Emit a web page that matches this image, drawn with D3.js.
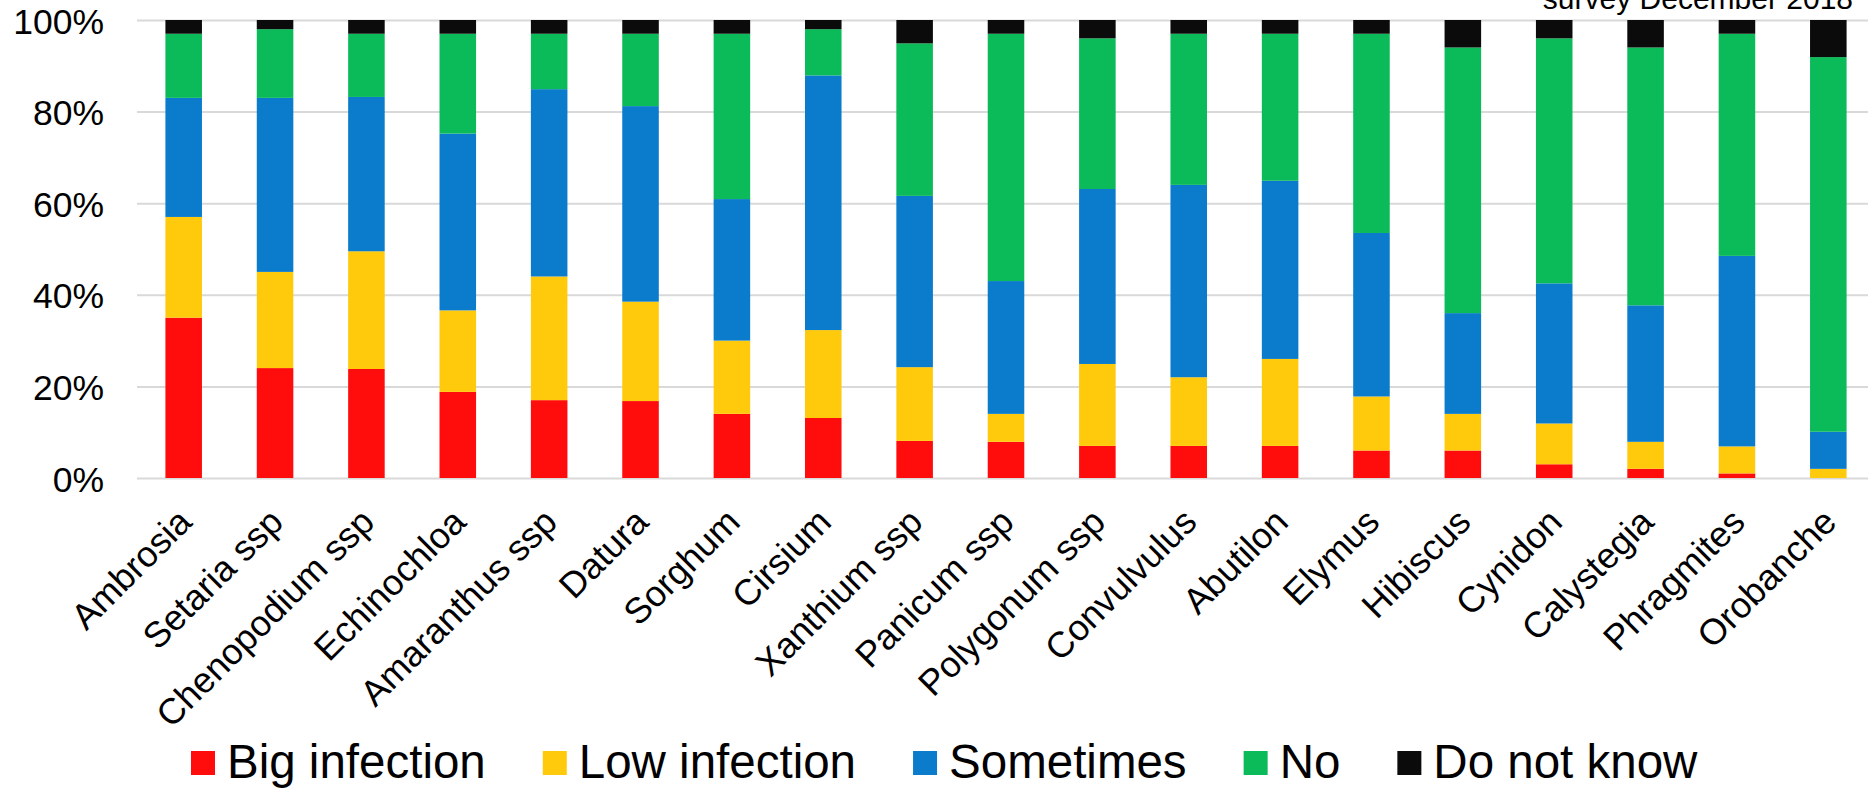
<!DOCTYPE html>
<html>
<head>
<meta charset="utf-8">
<script src="https://cdn.jsdelivr.net/npm/d3@7"></script>
<style>
  html, body { margin: 0; padding: 0; background: #fff; }
  svg { display: block; font-family: "Liberation Sans", Arial, sans-serif; }
</style>
</head>
<body>
<svg id="chart" width="1868" height="789"></svg>
<script>
const categories = ["Ambrosia", "Setaria ssp", "Chenopodium ssp", "Echinochloa", "Amaranthus ssp",
  "Datura", "Sorghum", "Cirsium", "Xanthium ssp", "Panicum ssp", "Polygonum ssp", "Convulvulus",
  "Abutilon", "Elymus", "Hibiscus", "Cynidon", "Calystegia", "Phragmites", "Orobanche"];

const seriesNames = ["Big infection", "Low infection", "Sometimes", "No", "Do not know"];

const bigInfection = [35, 24, 23.8, 18.8, 17, 16.8, 14, 13.1, 8.1, 7.9, 7, 7, 7, 6, 6, 3, 2, 1, 0];
const lowInfection = [22, 21, 25.7, 17.8, 27, 21.7, 16, 19.2, 16.1, 6.1, 17.9, 15, 19, 11.8, 8, 8.9, 5.9, 5.9, 2];
const sometimes    = [26, 38, 33.7, 38.6, 40.9, 42.7, 30.9, 55.6, 37.4, 29, 38.2, 42, 38.9, 35.7, 22, 30.6, 29.8, 41.6, 8.1];
const no           = [14, 15, 13.8, 21.8, 12.1, 15.8, 36.1, 10.1, 33.3, 54, 32.9, 33, 32.1, 43.5, 58, 53.5, 56.3, 48.5, 81.8];
const doNotKnow    = [3, 2, 3, 3, 3, 3, 3, 2, 5.1, 3, 4, 3, 3, 3, 6, 4, 6, 3, 8.1];

const yTicks = [0, 20, 40, 60, 80, 100];
const yTickLabels = ["0%", "20%", "40%", "60%", "80%", "100%"];
const subtitle = "survey December 2018";

const colors = ["#FF0D0D", "#FFCA0C", "#0B7BCB", "#0BBA59", "#0B0B0B"];

const svg = d3.select("#chart");

const rows = categories.map((c, i) => ({
  cat: c,
  "Big infection": bigInfection[i],
  "Low infection": lowInfection[i],
  "Sometimes": sometimes[i],
  "No": no[i],
  "Do not know": doNotKnow[i]
}));

const x = d3.scaleBand().domain(categories).range([138, 1874]).paddingInner(0.6).paddingOuter(0.3);
const y = d3.scaleLinear().domain([0, 100]).range([478, 20]);
const color = d3.scaleOrdinal().domain(seriesNames).range(colors);

// gridlines + y labels
const yAxis = d3.axisLeft(y).tickValues(yTicks).tickSize(-(1868 - 137))
  .tickFormat((d, i) => yTickLabels[i]).tickPadding(33);
const gy = svg.append("g").attr("transform", "translate(137,0)").call(yAxis);
gy.select(".domain").remove();
gy.selectAll(".tick line").attr("stroke", "#D9D9D9").attr("stroke-width", 2);
gy.selectAll(".tick text").attr("font-size", 35.5).attr("fill", "#000")
  .attr("font-family", "Liberation Sans, Arial, sans-serif").attr("dy", "0.37em");

// stacked bars
const stack = d3.stack().keys(seriesNames);
const stacked = stack(rows);
svg.append("g").selectAll("g").data(stacked).join("g")
  .attr("fill", d => color(d.key))
  .selectAll("rect").data(d => d).join("rect")
  .attr("x", d => x(d.data.cat))
  .attr("width", x.bandwidth())
  .attr("y", d => y(d[1]))
  .attr("height", d => Math.max(0, y(d[0]) - y(d[1])));

// x labels
const xAxis = d3.axisBottom(x).tickSize(0).tickPadding(0);
const gx = svg.append("g").attr("transform", "translate(0,478)").call(xAxis);
gx.select(".domain").remove();
gx.selectAll(".tick text")
  .attr("font-size", 36).attr("fill", "#000")
  .attr("font-family", "Liberation Sans, Arial, sans-serif")
  .attr("text-anchor", "end")
  .attr("dy", null).attr("y", null)
  .attr("transform", "translate(10,46) rotate(-45)");

// subtitle
svg.append("text").attr("x", 1853).attr("y", 9).attr("text-anchor", "end")
  .attr("font-size", 30).attr("fill", "#000").text(subtitle);

// legend
const legend = svg.append("g");
let lx = 191;
seriesNames.forEach((name, i) => {
  legend.append("rect").attr("x", lx).attr("y", 751).attr("width", 24).attr("height", 24)
    .attr("fill", color(name));
  const t = legend.append("text").attr("x", lx + 36).attr("y", 778)
    .attr("font-size", 47.5).attr("fill", "#000").text(name);
  const w = t.node().getComputedTextLength();
  lx = lx + 36 + w + 57;
});
</script>
</body>
</html>
